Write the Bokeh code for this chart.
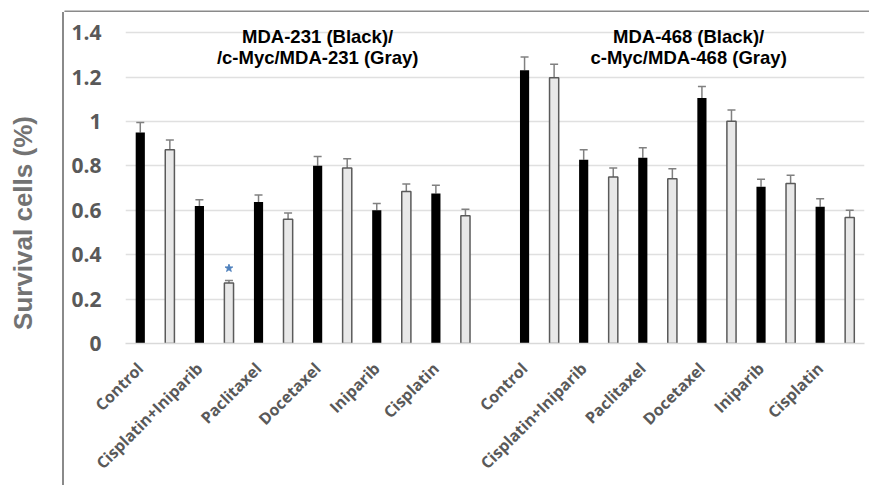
import math
from bokeh.plotting import figure
from bokeh.layouts import column, row
from bokeh.models import ColumnDataSource, FixedTicker, Whisker, TeeHead, Range1d
from bokeh.core.properties import value
from bokeh.embed import file_html
from bokeh.resources import INLINE

# ---------------- data ----------------
treatments = ["Control", "Cisplatin+Iniparib", "Paclitaxel", "Docetaxel", "Iniparib", "Cisplatin"]

mda231_black = [0.950, 0.619, 0.637, 0.800, 0.600, 0.675]
mda231_black_err = [0.045, 0.028, 0.032, 0.042, 0.030, 0.038]
mda231_gray = [0.872, 0.272, 0.559, 0.790, 0.685, 0.575]
mda231_gray_err = [0.044, 0.012, 0.029, 0.042, 0.033, 0.030]

mda468_black = [1.231, 0.827, 0.836, 1.105, 0.706, 0.616]
mda468_black_err = [0.059, 0.045, 0.045, 0.052, 0.034, 0.036]
mda468_gray = [1.197, 0.750, 0.742, 1.001, 0.720, 0.567]
mda468_gray_err = [0.060, 0.040, 0.045, 0.051, 0.038, 0.033]

group_titles = [["MDA-231 (Black)/", "/c-Myc/MDA-231 (Gray)"],
                ["MDA-468 (Black)/", "c-Myc/MDA-468 (Gray)"]]

y_ticks = [0.0, 0.2, 0.4, 0.6, 0.8, 1.0, 1.2, 1.4]
y_tick_labels = ["0", "0.2", "0.4", "0.6", "0.8", "1", "1.2", "1.4"]
y_title = "Survival cells (%)"
significant = [(0, 1)]  # (group, treatment) marked on the gray series

# ---------------- slot layout ----------------
n = len(treatments)
group_offset = [0, 2 * n + 1]
black_x, gray_x = [], []
for off in group_offset:
    for i in range(n):
        black_x.append(off + 2 * i)
        gray_x.append(off + 2 * i + 1)

black_top = mda231_black + mda468_black
black_err = mda231_black_err + mda468_black_err
gray_top = mda231_gray + mda468_gray
gray_err = mda231_gray_err + mda468_gray_err

src_b = ColumnDataSource(dict(x=black_x, top=black_top,
                              up=[t + e for t, e in zip(black_top, black_err)]))
src_g = ColumnDataSource(dict(x=gray_x, top=gray_top,
                              up=[t + e for t, e in zip(gray_top, gray_err)]))

BORDER = "#8a8a8a"
yr = Range1d(0, 1.45)

def bare(w, h, xr, yrng):
    f = figure(width=w, height=h, x_range=xr, y_range=yrng, output_backend="svg",
               toolbar_location=None, x_axis_location=None, y_axis_location=None,
               min_border=0)
    f.min_border_left = f.min_border_right = f.min_border_top = f.min_border_bottom = 0
    f.outline_line_color = None
    f.xgrid.visible = False
    f.ygrid.visible = False
    return f

# top strip carrying the top edge of the chart-area border
strip = bare(869, 12, (0, 869), (0, 12))
strip.segment(x0=[64], y0=[1], x1=[869], y1=[1], line_color=BORDER, line_width=2)
strip.segment(x0=[65], y0=[0], x1=[65], y1=[1], line_color=BORDER, line_width=2)

# left strip with the y title; its right edge is the left border of the chart area
left = bare(64, 473, (0, 64), yr)
left.styles = {"border-right": "2px solid " + BORDER}
left.text(x=[22.5], y=[0.5426], text=[y_title], angle=math.pi / 2,
          text_align="center", text_baseline="middle",
          text_font=value("Liberation Sans"), text_font_style="bold",
          text_font_size="26px", text_color="#737373")

# main chart
p = figure(width=803, height=473, output_backend="svg", toolbar_location=None,
           x_range=(-0.5, group_offset[1] + 2 * n - 0.5), y_range=yr,
           min_border_left=61, min_border_right=3, min_border_top=9,
           min_border_bottom=142)
p.outline_line_color = None
p.background_fill_color = "white"
p.border_fill_color = "white"

bar_w = 0.31
p.vbar(x="x", top="top", width=bar_w, bottom=0, source=src_b,
       fill_color="black", line_color=None)
p.vbar(x="x", top="top", width=bar_w, bottom=0, source=src_g,
       fill_color="#e8e8e8", line_color="#5a5a5a", line_width=1.5)

for src in (src_b, src_g):
    p.add_layout(Whisker(base="x", lower="top", upper="up", source=src,
                         line_color="#808080", line_width=1.5,
                         upper_head=TeeHead(size=8, line_color="#808080", line_width=1.5),
                         lower_head=None))

sx = [group_offset[g] + 2 * i + 1 for g, i in significant]
sy = [gray_top[g * n + i] + gray_err[g * n + i] + 0.055 for g, i in significant]
p.scatter(sx, sy, marker="star", size=8, fill_color="#4f81bd", line_color="#4f81bd")

title_x = [6.0, 18.55]
for gx, lines in zip(title_x, group_titles):
    for ly, txt in zip([1.382, 1.289], lines):
        p.text(x=[gx], y=[ly], text=[txt], text_align="center",
               text_baseline="alphabetic", text_font=value("Liberation Sans"),
               text_font_style="bold", text_font_size="18.5px", text_color="black")

p.xgrid.grid_line_color = None
p.ygrid.ticker = FixedTicker(ticks=y_ticks)
p.ygrid.grid_line_color = "#e0e0e0"
p.ygrid.grid_line_width = 1.5

xa = p.xaxis[0]
xa.ticker = FixedTicker(ticks=black_x)
xa.major_label_overrides = {x: treatments[k % n] for k, x in enumerate(black_x)}
xa.major_label_orientation = math.pi / 4
xa.major_tick_out = 0
xa.major_tick_in = 0
xa.major_label_standoff = 22
xa.major_label_text_font = "Open Sans"
xa.major_label_text_font_style = "bold"
xa.major_label_text_font_size = "16px"
xa.major_label_text_color = "#595959"
xa.axis_line_color = "#d9d9d9"
xa.axis_line_width = 1.5
xa.major_tick_line_color = None
xa.minor_tick_line_color = None

ya = p.yaxis[0]
ya.ticker = FixedTicker(ticks=y_ticks)
ya.major_label_overrides = {t: l for t, l in zip(y_ticks, y_tick_labels)}
ya.major_tick_out = 0
ya.major_tick_in = 0
ya.major_label_standoff = 24
ya.major_label_text_font = "Open Sans"
ya.major_label_text_font_style = "bold"
ya.major_label_text_font_size = "21px"
ya.major_label_text_color = "#595959"
ya.axis_line_color = None
ya.major_tick_line_color = None
ya.minor_tick_line_color = None

layout = column(strip, row(left, p))
open("out.html", "w").write(file_html(layout, INLINE))
